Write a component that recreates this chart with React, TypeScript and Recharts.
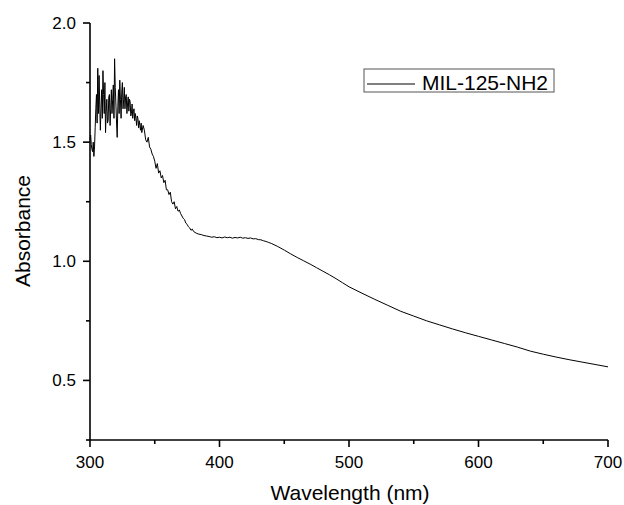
import { LineChart, Line, XAxis, YAxis, Label } from 'recharts'

// UV-vis spectrum
const wavelengths = [
  300, 300.5, 301, 301.5, 302, 302.5, 303, 303.5, 304, 304.5,
  305, 305.5, 306, 306.5, 307, 307.5, 308, 308.5, 309, 309.5,
  310, 310.5, 311, 311.5, 312, 312.5, 313, 313.5, 314, 314.5,
  315, 315.5, 316, 316.5, 317, 317.5, 318, 318.5, 319, 319.5,
  320, 320.5, 321, 321.5, 322, 322.5, 323, 323.5, 324, 324.5,
  325, 325.5, 326, 326.5, 327, 327.5, 328, 328.5, 329, 329.5,
  330, 330.5, 331, 331.5, 332, 332.5, 333, 333.5, 334, 334.5,
  335, 335.5, 336, 336.5, 337, 337.5, 338, 338.5, 339, 339.5,
  340, 341, 342, 343, 344, 345, 346, 347, 348, 349,
  350, 351, 352, 353, 354, 355, 356, 357, 358, 359,
  360, 361, 362, 363, 364, 365, 366, 367, 368, 369,
  370, 371, 372, 373, 374, 375, 376, 377, 378, 379,
  380, 382, 384, 386, 388, 390, 392, 394, 396, 398,
  400, 402, 404, 406, 408, 410, 412, 414, 416, 418,
  420, 422, 424, 426, 428, 430, 432, 434, 436, 438,
  440, 445, 450, 455, 460, 465, 470, 475, 480, 485,
  490, 495, 500, 510, 520, 530, 540, 550, 560, 570,
  580, 590, 600, 610, 620, 630, 640, 650, 660, 670,
  680, 690, 700,
]

const absorbance = [
  1.51, 1.53, 1.49, 1.47, 1.46, 1.50, 1.44, 1.48, 1.56, 1.64,
  1.70, 1.58, 1.81, 1.62, 1.78, 1.66, 1.55, 1.64, 1.72, 1.60,
  1.80, 1.70, 1.62, 1.75, 1.54, 1.63, 1.68, 1.58, 1.59, 1.69,
  1.70, 1.57, 1.64, 1.72, 1.62, 1.68, 1.74, 1.60, 1.85, 1.73,
  1.66, 1.58, 1.52, 1.65, 1.72, 1.62, 1.76, 1.68, 1.60, 1.71,
  1.75, 1.64, 1.68, 1.73, 1.64, 1.69, 1.70, 1.62, 1.66, 1.69,
  1.63, 1.68, 1.67, 1.61, 1.62, 1.66, 1.60, 1.63, 1.64, 1.59,
  1.62, 1.60, 1.57, 1.61, 1.60, 1.56, 1.59, 1.57, 1.55, 1.58,
  1.54, 1.57, 1.55, 1.51, 1.50, 1.52, 1.48, 1.47, 1.45, 1.44,
  1.42, 1.39, 1.41, 1.37, 1.38, 1.35, 1.36, 1.33, 1.34, 1.30,
  1.30, 1.28, 1.29, 1.25, 1.24, 1.25, 1.22, 1.23, 1.21, 1.215,
  1.20, 1.19, 1.18, 1.175, 1.16, 1.155, 1.145, 1.14, 1.13, 1.135,
  1.125, 1.118, 1.114, 1.112, 1.108, 1.106, 1.104, 1.101, 1.103, 1.099,
  1.101, 1.098, 1.102, 1.099, 1.101, 1.097, 1.100, 1.098, 1.101, 1.097,
  1.099, 1.096, 1.098, 1.094, 1.095, 1.091, 1.090, 1.086, 1.083, 1.079,
  1.075, 1.062, 1.047, 1.031, 1.016, 1.002, 0.988, 0.973, 0.958, 0.943,
  0.927, 0.910, 0.893, 0.866, 0.840, 0.815, 0.790, 0.770, 0.750, 0.733,
  0.716, 0.700, 0.685, 0.670, 0.655, 0.640, 0.623, 0.610, 0.598, 0.587,
  0.577, 0.567, 0.557,
]

const xTicks = [300, 350, 400, 450, 500, 550, 600, 650, 700]
const yTicks = [0.25, 0.5, 0.75, 1.0, 1.25, 1.5, 1.75, 2.0]

const seriesName = 'MIL-125-NH2'

const FONT = '"Liberation Sans", Arial, sans-serif'

const data = wavelengths.map((nm, i) => ({ nm, abs: absorbance[i] }))

function renderXTick(props: any) {
  const { x, y, payload } = props
  const major = payload.value % 100 === 0
  return (
    <g key={`xt-${payload.value}`}>
      <path d={`M${x},${y}L${x},${y + (major ? 7 : 4)}`} stroke="#000" strokeWidth={1.6} fill="none" />
      {major && (
        <text x={x} y={y + 28} textAnchor="middle" fontSize={17} fontFamily={FONT} fill="#000">
          {payload.value}
        </text>
      )}
    </g>
  )
}

function renderYTick(props: any) {
  const { x, y, payload } = props
  const v = Number(payload.value)
  const major = Math.abs(v * 2 - Math.round(v * 2)) < 1e-6
  return (
    <g key={`yt-${v}`}>
      <path d={`M${x - (major ? 7 : 4)},${y}L${x},${y}`} stroke="#000" strokeWidth={1.6} fill="none" />
      {major && (
        <text x={x - 14} y={y + 6} textAnchor="end" fontSize={17} fontFamily={FONT} fill="#000">
          {v.toFixed(1)}
        </text>
      )}
    </g>
  )
}

export default function App() {
  return (
    <div style={{ position: 'absolute', left: 0, top: 0, width: 624, height: 505, background: '#fff' }}>
      <LineChart width={624} height={505} data={data} margin={{ top: 23, right: 16, bottom: 0, left: 0 }}>
        <XAxis
          dataKey="nm"
          type="number"
          domain={[300, 700]}
          ticks={xTicks}
          interval={0}
          height={65}
          tickLine={false}
          tickSize={0}
          tickMargin={0}
          tick={renderXTick}
          axisLine={{ stroke: '#000', strokeWidth: 1.6 }}
        >
          <Label
            content={() => (
              <text x={350} y={500} textAnchor="middle" fontSize={21} fontFamily={FONT} fill="#000">
                Wavelength (nm)
              </text>
            )}
          />
        </XAxis>
        <YAxis
          type="number"
          domain={[0.25, 2.0]}
          ticks={yTicks}
          interval={0}
          width={90}
          tickLine={false}
          tickSize={0}
          tickMargin={0}
          tick={renderYTick}
          axisLine={{ stroke: '#000', strokeWidth: 1.6 }}
          allowDataOverflow
        >
          <Label
            content={() => (
              <text
                x={22}
                y={231}
                transform="rotate(-90 22 231)"
                textAnchor="middle"
                dominantBaseline="central"
                fontSize={21}
                fontFamily={FONT}
                fill="#000"
              >
                Absorbance
              </text>
            )}
          />
        </YAxis>
        <Line
          type="linear"
          dataKey="abs"
          name={seriesName}
          stroke="#000"
          strokeWidth={1}
          dot={false}
          isAnimationActive={false}
        />
      </LineChart>
      <svg width={192} height={25} style={{ position: 'absolute', left: 363, top: 68, display: 'block' }}>
        <rect x={1} y={1} width={190} height={23} fill="#fff" stroke="#555" strokeWidth={1} />
        <line x1={4} x2={52} y1={16} y2={16} stroke="#000" strokeWidth={1} />
        <text x={59} y={22} fontSize={21} fontFamily={FONT} fill="#000">{seriesName}</text>
      </svg>
    </div>
  )
}
